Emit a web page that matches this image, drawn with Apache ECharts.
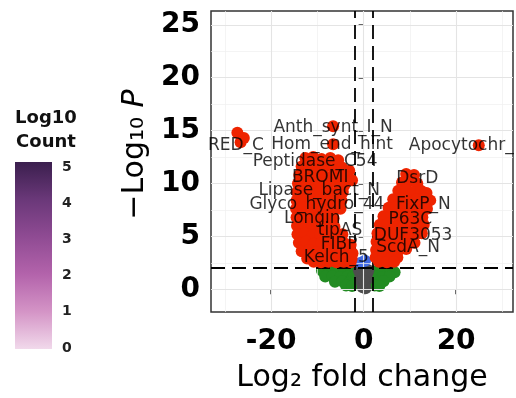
<!DOCTYPE html>
<html><head><meta charset="utf-8">
<script src="https://cdn.jsdelivr.net/npm/echarts@6/dist/echarts.min.js"></script>
<style>html,body{margin:0;padding:0;background:#fff}#c{width:516px;height:398px}</style>
</head><body><div id="c"></div>
<script>
// ---- tick values ----
const xTicks = [-20, 0, 20];
const xMinor = [-30, -10, 10, 30];
const yTicks = [0, 5, 10, 15, 20, 25];
const yMinor = [2.5, 7.5, 12.5, 17.5, 22.5];
const fcCutoffs = [-2, 2];
const pCutoff = 2;
const legendTicks = [0, 1, 2, 3, 4, 5];

// ---- points [log2FC, -log10 P] ----
const nsPoints = [[-0.8,1.6],[0.1,1.7],[0.8,1.5],[-0.7,1.1],[0.3,1.2],[0.7,0.9],[-0.5,0.7],[0.2,0.5],[-0.2,0.2],[0.4,0.1],[0,0.9],[-1.0,1.8],[1.0,1.8]];
const fcPoints = [[-9.0,1.75],[-7.4,1.7],[-5.8,1.8],[-4.2,1.7],[-2.6,1.75],[2.6,1.7],[4.2,1.8],[5.8,1.7],[6.7,1.6],
  [-8.3,1.2],[-6.7,1.25],[-5.1,1.15],[-3.5,1.2],[-2.4,1.1],[2.5,1.2],[4.0,1.15],[5.6,1.2],
  [-6.2,0.7],[-4.6,0.75],[-3.0,0.65],[2.8,0.7],[4.3,0.75],
  [-3.8,0.35],[-2.5,0.3],[2.4,0.35],[3.4,0.3]];
const pPoints = [[-0.6,2.5],[0.3,2.7]];
const bothPoints = [
  [-27.3,14.8],[-25.9,14.3],[-26.6,13.9],[-6.6,15.4],[-6.6,13.7],[24.9,13.6],
  [-12.6,12.4],[-10.9,12.5],[-9.1,12.3],[-7.2,12.4],[-5.5,12.2],
  [-13.4,11.6],[-11.8,11.7],[-10.0,11.5],[-8.3,11.6],[-6.5,11.4],[-4.7,11.5],[-3.1,11.2],
  [-13.9,10.8],[-12.2,10.9],[-10.6,10.7],[-8.8,10.8],[-7.1,10.6],[-5.3,10.8],[-3.6,10.6],[-2.5,10.3],
  [-14.2,10.0],[-12.6,10.1],[-11.0,9.9],[-9.3,10.0],[-7.6,9.9],[-5.9,10.1],[-4.2,9.8],
  [-14.4,9.2],[-12.8,9.3],[-11.2,9.1],[-9.5,9.2],[-7.8,9.3],[-6.1,9.1],[-4.5,9.2],
  [-14.5,8.4],[-12.9,8.5],[-11.3,8.3],[-9.6,8.4],[-8.0,8.5],[-6.3,8.3],[-4.8,8.4],
  [-14.6,7.6],[-13.0,7.7],[-11.4,7.5],[-9.7,7.6],[-8.1,7.7],[-6.4,7.5],[-5.0,7.6],
  [-14.5,6.8],[-12.9,6.9],[-11.2,6.7],[-9.6,6.8],[-8.0,6.9],[-6.5,6.7],
  [-14.4,6.0],[-12.8,6.1],[-11.1,5.9],[-9.5,6.0],[-7.9,6.1],[-6.3,5.9],
  [-14.3,5.2],[-12.7,5.3],[-11.0,5.1],[-9.4,5.2],[-7.7,5.3],[-6.1,5.1],[-4.6,5.2],
  [-14.0,4.4],[-12.4,4.5],[-10.8,4.3],[-9.1,4.4],[-7.5,4.5],[-5.9,4.3],[-4.3,4.4],[-2.8,4.2],
  [-13.4,3.6],[-11.8,3.7],[-10.2,3.5],[-8.5,3.6],[-6.9,3.7],[-5.3,3.5],[-3.7,3.6],[-2.4,3.4],
  [-12.2,2.9],[-10.6,3.0],[-9.0,2.8],[-7.3,2.9],[-5.7,3.0],[-4.1,2.8],[-2.6,2.9],
  [-10.8,2.6],[-9.2,2.55],[-7.6,2.6],[-5.9,2.55],[-4.3,2.6],[-2.8,2.55],
  [9.2,10.9],[10.9,10.8],
  [8.3,10.1],[10.0,10.2],[11.6,10.0],
  [7.5,9.3],[9.2,9.4],[10.8,9.2],[12.4,9.3],[13.6,9.1],
  [6.4,8.5],[8.1,8.6],[9.8,8.4],[11.4,8.5],[13.0,8.6],[14.4,8.4],
  [5.4,7.7],[7.1,7.8],[8.8,7.6],[10.4,7.7],[12.0,7.8],[13.7,7.6],
  [4.3,6.9],[6.0,7.0],[7.7,6.8],[9.3,6.9],[11.0,7.0],[12.7,6.8],
  [3.5,6.1],[5.2,6.2],[6.9,6.0],[8.5,6.1],[10.2,6.2],[11.9,6.0],[13.0,6.1],
  [3.0,5.3],[4.6,5.4],[6.3,5.2],[8.0,5.3],[9.6,5.4],[11.3,5.2],[12.6,5.3],
  [2.8,4.5],[4.4,4.6],[6.1,4.4],[7.7,4.5],[9.4,4.6],[11.0,4.4],
  [2.7,3.7],[4.3,3.8],[6.0,3.6],[7.6,3.7],[9.2,3.8],
  [2.6,3.0],[4.2,3.1],[5.8,2.9],[7.3,3.0],
  [3.3,2.6],[5.0,2.55],[6.6,2.6]
];

// ---- labels ----
const labelNames = ['Anth_synt_I_N','RED_C','Hom_end_hint','Apocytochr_','Peptidase_C54','BROMI','DsrD','Lipase_bact_N','Glyco_hydro_44','FixP_N','Longin','P63C','tipAS','DUF3053','FIBP','ScdA_N','Kelch_5'];
const labelX = [-6.6,-27.6,-6.8,21.1,-10.5,-9.4,11.6,-9.6,-10.1,12.9,-11.1,10.1,-5.1,10.7,-5.3,9.6,-5.9];
const labelY = [15.3,13.6,13.7,13.6,12.1,10.6,10.5,9.3,8.0,8.0,6.7,6.6,5.5,5.1,4.2,3.9,3.0];

const F = 'DejaVu Sans';
const chart = echarts.init(document.getElementById('c'), null, {renderer: 'canvas'});

const major = {color: '#e4e4e4', width: 1.1, type: 'solid'};
const minor = {color: '#efefef', width: 0.7, type: 'solid'};
const gridData = []
  .concat(xMinor.map(v => ({xAxis: v, lineStyle: minor})))
  .concat(yMinor.map(v => ({yAxis: v, lineStyle: minor})))
  .concat(xTicks.map(v => ({xAxis: v, lineStyle: major})))
  .concat(yTicks.map(v => ({yAxis: v, lineStyle: major})));
const dash = {color: '#000', width: 1.8, type: [14, 7]};
const cutData = fcCutoffs.map(v => ({xAxis: v, lineStyle: dash})).concat([{yAxis: pCutoff, lineStyle: dash}]);

const ml = (data) => ({silent: true, symbol: ['none','none'], label: {show: false}, animation: false, data: data, emphasis: {disabled: true}});

const barX = 15, barY = 162, barW = 37, barH = 187;
const graphics = [
  {type: 'text', x: 46, y: 130, style: {text: 'Log10\nCount', align: 'center', verticalAlign: 'middle', font: 'bold 18px "DejaVu Sans"', fill: '#111', lineHeight: 24}},
  {type: 'rect', shape: {x: barX, y: barY, width: barW, height: barH},
   style: {fill: new echarts.graphic.LinearGradient(0, 0, 0, 1, [
     {offset: 0, color: '#3b1f4e'}, {offset: 0.2, color: '#6a3879'}, {offset: 0.4, color: '#8f4b93'},
     {offset: 0.6, color: '#b363ab'}, {offset: 0.8, color: '#d494c6'}, {offset: 1, color: '#f1d9eb'}])}}
].concat(legendTicks.map(v => ({
  type: 'text', x: barX + barW + 10, y: barY + barH - 1 - (v - legendTicks[0]) / (legendTicks[legendTicks.length-1] - legendTicks[0]) * (barH - 6),
  style: {text: String(v), font: 'bold 14px "DejaVu Sans"', fill: '#222', verticalAlign: 'middle', align: 'left'}
})));

const option = {
  animation: false,
  graphic: graphics,
  grid: {left: 211, right: 3, top: 11, bottom: 83, show: true, borderColor: '#333', borderWidth: 1.5, backgroundColor: '#fff'},
  xAxis: {
    type: 'value', min: -33, max: 32.3,
    axisLine: {show: false},
    axisTick: {show: true, customValues: xTicks, length: 5, lineStyle: {color: '#333', width: 1.5}},
    axisLabel: {customValues: xTicks, fontFamily: F, fontSize: 28, fontWeight: 'bold', color: '#000', margin: 16},
    splitLine: {show: false},
    name: 'Log₂ fold change', nameLocation: 'middle', nameGap: 51,
    nameTextStyle: {fontFamily: F, fontSize: 30, color: '#000'}
  },
  yAxis: {
    type: 'value', min: -2.15, max: 26.3,
    axisLine: {show: false},
    axisTick: {show: true, customValues: yTicks, length: 5, lineStyle: {color: '#333', width: 1.5}},
    axisLabel: {customValues: yTicks, fontFamily: F, fontSize: 28, fontWeight: 'bold', color: '#000', margin: 11},
    splitLine: {show: false},
    name: '{a|−Log₁₀ }{i|P}', nameLocation: 'middle', nameGap: 60,
    nameTextStyle: {padding: [0, 0, 0, 14], rich: {a: {fontFamily: F, fontSize: 30, color: '#000'}, i: {fontFamily: F, fontSize: 30, fontStyle: 'italic', color: '#000'}}}
  },
  series: [
    {type: 'scatter', data: [], z: 1, markLine: ml(gridData)},
    {type: 'scatter', name: 'Log2 FC', data: fcPoints, symbolSize: 12, itemStyle: {color: '#228b22', opacity: 1}, z: 2},
    {type: 'scatter', name: 'NS', data: nsPoints, symbolSize: 12, itemStyle: {color: '#4d4d4d', opacity: 1}, z: 3},
    {type: 'scatter', name: 'p-value', data: pPoints, symbolSize: 12, itemStyle: {color: '#4169e1', opacity: 1}, z: 4},
    {type: 'scatter', name: 'p-value and log2 FC', data: bothPoints, symbolSize: 12, itemStyle: {color: '#ee2400', opacity: 1}, z: 5},
    {type: 'scatter', data: [], z: 6, markLine: ml(cutData)},
    {type: 'scatter', z: 7, symbolSize: 1, itemStyle: {color: 'rgba(0,0,0,0)'},
     data: labelNames.map((n, i) => ({name: n, value: [labelX[i], labelY[i]]})),
     label: {show: true, position: 'inside', formatter: '{b}', fontFamily: F, fontSize: 17, color: '#000'}}
  ]
};
chart.setOption(option);
</script></body></html>
